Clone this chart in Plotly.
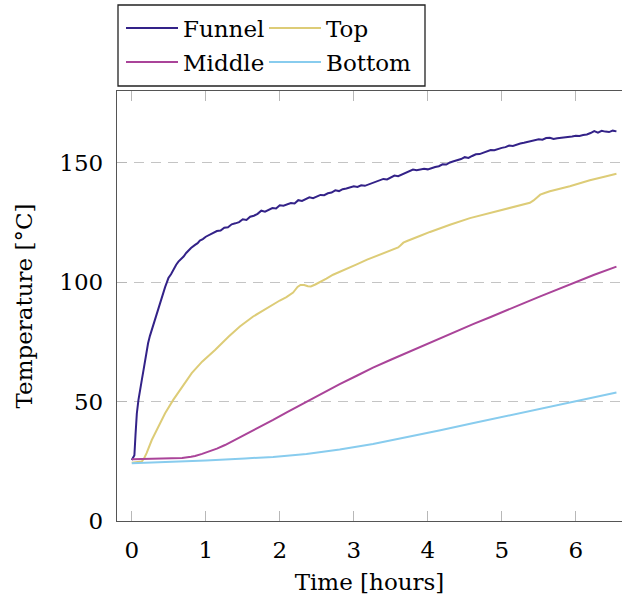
import plotly.graph_objects as go

# ---------------- data ----------------
funnel_x = [0.00, 0.01, 0.035, 0.05, 0.068, 0.09, 0.11, 0.135, 0.16, 0.18, 0.20, 0.22, 0.245, 0.27, 0.29,
            0.305, 0.33, 0.35, 0.38, 0.405, 0.43, 0.45, 0.475, 0.495, 0.53, 0.56, 0.60, 0.63, 0.67, 0.70,
            0.735, 0.765, 0.80, 0.855, 0.89, 0.92, 0.96,
            1.00, 1.05, 1.10, 1.15, 1.20, 1.25, 1.30, 1.35, 1.40, 1.45, 1.50, 1.55, 1.60, 1.65, 1.70, 1.75,
            1.80, 1.85, 1.90, 1.95, 2.00, 2.05, 2.10, 2.15, 2.20, 2.25, 2.30, 2.35, 2.40, 2.45, 2.50, 2.55,
            2.60, 2.65, 2.70, 2.75, 2.80, 2.85, 2.90, 2.95, 3.00, 3.05, 3.10, 3.15, 3.20, 3.25, 3.30, 3.35,
            3.40, 3.45, 3.50, 3.55, 3.60, 3.65, 3.70, 3.75, 3.80, 3.85, 3.90, 3.95, 4.00, 4.05, 4.10, 4.15,
            4.20, 4.25, 4.30, 4.35, 4.40, 4.45, 4.50, 4.55, 4.60, 4.65, 4.70, 4.75, 4.80, 4.85, 4.90, 4.95,
            5.00, 5.05, 5.10, 5.15, 5.20, 5.25, 5.30, 5.35, 5.40, 5.45, 5.50, 5.55, 5.60, 5.65, 5.70, 5.75,
            5.80, 5.85, 5.90, 5.95, 6.00, 6.05, 6.10, 6.15, 6.20, 6.25, 6.30, 6.35, 6.40, 6.45, 6.50, 6.55]
funnel_y = [25.5, 26.0, 27.5, 36.0, 45.0, 50.7, 55.0, 59.0, 63.5, 67.4, 71.0, 74.4, 77.5, 80.0, 82.5,
            84.2, 86.5, 88.4, 91.5, 94.0, 96.5, 97.9, 100.0, 101.7, 103.3, 105.2, 107.3, 108.6, 109.8, 110.7,
            112.2, 113.2, 114.3, 115.6, 116.3, 117.4, 118.0,
            119.0, 119.8, 120.3, 121.4, 121.6, 122.8, 123.0, 124.2, 124.6, 125.1, 126.3, 126.0, 127.4, 127.8, 128.6, 129.9,
            129.5, 130.3, 131.0, 130.8, 132.2, 132.0, 132.6, 133.1, 132.9, 134.3, 134.0, 134.6, 135.5, 135.1, 135.8, 136.5,
            136.4, 137.2, 137.5, 138.4, 138.1, 138.9, 139.2, 139.6, 140.1, 139.8, 140.5, 140.3, 140.9, 141.3, 141.8, 142.5,
            143.2, 143.0, 143.9, 144.6, 144.3, 145.0, 145.6, 146.2, 147.1, 146.8, 147.1, 147.4, 147.2, 147.8, 148.2, 148.5,
            149.3, 149.2, 150.1, 150.6, 150.9, 151.5, 152.3, 152.0, 152.8, 153.5, 153.6, 154.2, 154.8, 155.3, 155.2, 155.8,
            156.2, 156.5, 157.2, 157.0, 157.6, 158.0, 158.3, 158.7, 159.1, 159.4, 159.8, 159.6, 160.3, 160.4, 159.9, 160.2,
            160.4, 160.3, 160.8, 161.0, 161.3, 161.2, 161.6, 161.8, 162.4, 163.2, 162.6, 163.3, 163.0, 162.8, 163.4, 163.1]

top_x = [0.00, 0.10, 0.135, 0.17, 0.20, 0.27, 0.36, 0.45, 0.56, 0.68, 0.81, 0.95, 1.125, 1.31, 1.46,
         1.64, 1.82, 2.00, 2.09, 2.15, 2.18, 2.21, 2.24, 2.28, 2.33, 2.38, 2.42, 2.48, 2.54, 2.63, 2.72,
         2.81, 2.95, 3.04, 3.18, 3.26, 3.40, 3.54, 3.60, 3.63, 3.67, 3.72, 3.80, 3.90, 4.03, 4.17, 4.30,
         4.57, 4.84, 5.11, 5.38, 5.43, 5.48, 5.52, 5.58, 5.65, 5.92, 6.19, 6.40, 6.55]
top_y = [24.4, 24.6, 24.9, 26.5, 28.4, 33.9, 39.5, 45.1, 50.7, 56.3, 61.9, 66.7, 71.6, 77.2, 81.4,
         85.6, 89.1, 92.3, 93.7, 94.8, 95.6, 96.8, 98.0, 98.8, 98.8, 98.3, 98.2, 99.0, 99.9, 101.5, 103.1,
         104.4, 106.2, 107.4, 109.4, 110.4, 112.2, 113.8, 114.5, 115.3, 116.5, 117.2, 118.3, 119.4, 121.0, 122.6, 124.0,
         126.8, 128.9, 131.0, 133.2, 134.2, 135.6, 136.6, 137.3, 138.0, 140.1, 142.6, 144.2, 145.4]

middle_x = [0.00, 0.22, 0.50, 0.68, 0.80, 0.855, 0.95, 1.035, 1.15, 1.26, 1.40, 1.53, 1.70, 1.91, 2.10,
            2.36, 2.58, 2.81, 3.04, 3.26, 3.50, 3.72, 3.95, 4.17, 4.40, 4.62, 4.85, 5.07, 5.30, 5.52,
            5.75, 5.97, 6.25, 6.55]
middle_y = [25.8, 26.0, 26.2, 26.4, 26.9, 27.2, 28.1, 29.0, 30.3, 31.8, 34.0, 36.0, 38.9, 42.3, 45.6,
            50.0, 53.7, 57.3, 60.8, 64.2, 67.5, 70.5, 73.5, 76.5, 79.5, 82.5, 85.4, 88.4, 91.2, 94.0,
            96.9, 99.8, 103.1, 106.5]

bottom_x = [0.00, 0.30, 0.68, 1.00, 1.53, 1.91, 2.36, 2.81, 3.26, 3.72, 4.17, 4.62, 5.07, 5.52, 5.97, 6.25, 6.55]
bottom_y = [24.2, 24.5, 24.9, 25.3, 26.2, 26.8, 28.0, 29.9, 32.2, 35.0, 38.0, 41.0, 44.0, 47.0, 50.0, 51.9, 53.8]

x_ticks = [0, 1, 2, 3, 4, 5, 6]
y_ticks = [0, 50, 100, 150]

series = [
    ("Funnel", funnel_x, funnel_y, "#332288", "legend"),
    ("Top", top_x, top_y, "#DDCC77", "legend2"),
    ("Middle", middle_x, middle_y, "#AA4499", "legend3"),
    ("Bottom", bottom_x, bottom_y, "#88CCEE", "legend4"),
]

FONT = "DejaVu Serif"
FS = 23
W, H = 623, 598
L, R, T, B = 117, 1, 91, 77
PW, PH = W - L - R, H - T - B


def px_x(p):
    return (p - L) / PW


def px_y(p):
    return (H - B - p) / PH


fig = go.Figure()
for name, xs, ys, col, lg in series:
    fig.add_trace(go.Scatter(x=xs, y=ys, mode="lines", name=name,
                             line=dict(color=col, width=2), legend=lg))

legend_common = dict(font=dict(family=FONT, size=FS, color="#000"), bgcolor="rgba(0,0,0,0)",
                     borderwidth=0, xanchor="left", yanchor="middle", itemwidth=52,
                     orientation="v")
fig.update_layout(
    legend=dict(x=px_x(121), y=px_y(28), **legend_common),
    legend2=dict(x=px_x(264), y=px_y(28), **legend_common),
    legend3=dict(x=px_x(121), y=px_y(62), **legend_common),
    legend4=dict(x=px_x(264), y=px_y(62), **legend_common),
)

fig.add_shape(type="rect", xref="paper", yref="paper",
              x0=px_x(118), x1=px_x(425), y0=px_y(86), y1=px_y(5),
              line=dict(color="#222", width=1.3), fillcolor="rgba(0,0,0,0)")

fig.update_layout(
    width=W, height=H,
    margin=dict(l=L, r=R, t=T, b=B, pad=0),
    paper_bgcolor="white", plot_bgcolor="white",
    font=dict(family=FONT, size=FS, color="#000"),
    showlegend=True,
    xaxis=dict(range=[-0.2, 6.625], tickvals=x_ticks, ticks="inside", ticklen=10,
               tickcolor="#b8b8b8", tickwidth=1.3, showline=True, linecolor="#555", linewidth=1.3,
               mirror="ticks", showgrid=False, zeroline=False,
               tickfont=dict(family=FONT, size=FS), ticklabelstandoff=8,
               title=dict(text="Time [hours]", font=dict(family=FONT, size=FS), standoff=12)),
    yaxis=dict(range=[0, 180], tickvals=y_ticks, ticks="inside", ticklen=10,
               tickcolor="#b8b8b8", tickwidth=1.3, showline=True, linecolor="#555", linewidth=1.3,
               mirror=False, showgrid=True, gridcolor="#c4c4c4", gridwidth=1, griddash="10px,7px",
               zeroline=False, tickfont=dict(family=FONT, size=FS), ticklabelstandoff=8,
               title=dict(text="Temperature [°C]", font=dict(family=FONT, size=FS), standoff=20)),
)

fig.write_html("out.html", config={"displayModeBar": False},
               post_script="document.body.style.margin='0';document.body.style.overflow='hidden';")
